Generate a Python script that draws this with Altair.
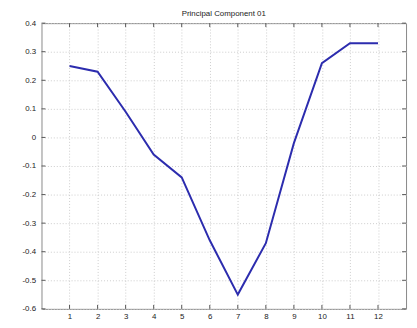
import altair as alt
import pandas as pd

components = [1, 2, 3, 4, 5, 6, 7, 8, 9, 10, 11, 12]
loadings = [0.25, 0.23, 0.09, -0.06, -0.14, -0.36, -0.55, -0.37, -0.02, 0.26, 0.33, 0.33]
y_ticks = [0.4, 0.3, 0.2, 0.1, 0, -0.1, -0.2, -0.3, -0.4, -0.5, -0.6]
title_text = "Principal Component 01"

W, H = 370, 290

df = pd.DataFrame({"x": components, "y": loadings})
xt = pd.DataFrame({"x": components})
yt = pd.DataFrame({"y": y_ticks})

xscale = alt.Scale(domain=[0, 13], nice=False, zero=False)
yscale = alt.Scale(domain=[-0.6, 0.4], nice=False, zero=False)

axis_common = dict(
    grid=True,
    gridColor="#cccccc",
    gridDash=[1, 2],
    gridWidth=1,
    domain=False,
    ticks=False,
    labelOverlap=False,
    labelFont="Liberation Sans",
    labelFontSize=8,
    labelColor="#222222",
    title=None,
)
xaxis = alt.Axis(values=components, labelPadding=4, **axis_common)
yaxis = alt.Axis(
    values=y_ticks, labelPadding=6,
    labelExpr="datum.value < 0 ? '-' + format(-datum.value, '~g') : format(datum.value, '~g')",
    **axis_common)

line = alt.Chart(df).mark_line(color="#2c2cae", strokeWidth=2).encode(
    x=alt.X("x:Q", scale=xscale, axis=xaxis),
    y=alt.Y("y:Q", scale=yscale, axis=yaxis),
)

tick_color = "#555555"
xb = alt.Chart(xt).mark_rule(color=tick_color, strokeWidth=1).encode(
    x=alt.X("x:Q", scale=xscale, axis=xaxis), y=alt.value(H), y2=alt.value(H - 4))
xtp = alt.Chart(xt).mark_rule(color=tick_color, strokeWidth=1).encode(
    x=alt.X("x:Q", scale=xscale, axis=xaxis), y=alt.value(0), y2=alt.value(4))
yl = alt.Chart(yt).mark_rule(color=tick_color, strokeWidth=1).encode(
    y=alt.Y("y:Q", scale=yscale, axis=yaxis), x=alt.value(0), x2=alt.value(4))
yr = alt.Chart(yt).mark_rule(color=tick_color, strokeWidth=1).encode(
    y=alt.Y("y:Q", scale=yscale, axis=yaxis), x=alt.value(W), x2=alt.value(W - 4))

chart = alt.layer(line, xb, xtp, yl, yr).properties(
    width=W,
    height=H,
    title=alt.TitleParams(title_text, font="Liberation Sans", fontSize=8,
                          fontWeight="normal", color="#222222", offset=1),
    autosize=alt.AutoSizeParams(type="none"),
    padding={"left": 34, "top": 13, "right": 3, "bottom": 14},
).configure_view(
    stroke="#888888", strokeWidth=1
)

chart.save("out.html", embed_options={"renderer": "svg", "actions": False})
